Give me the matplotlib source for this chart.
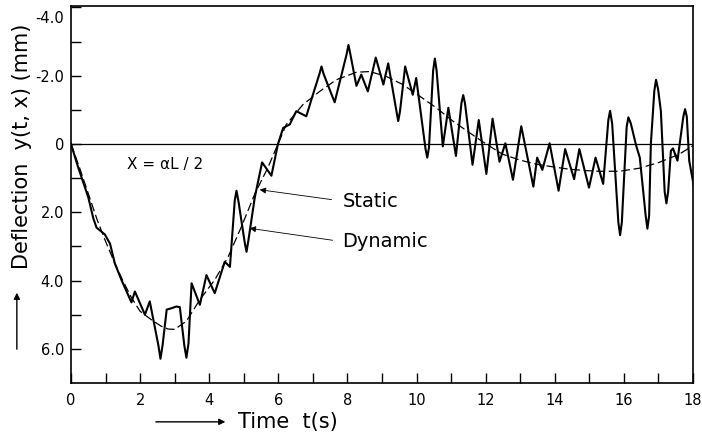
import matplotlib
matplotlib.use("Agg")
import matplotlib.pyplot as plt
from matplotlib.patches import FancyArrowPatch
from matplotlib.transforms import ScaledTranslation

plt.rcParams["font.family"] = ["DejaVu Sans"]

t_dyn = [0.0, 0.21, 0.5, 0.65, 0.74, 0.98, 1.13, 1.27, 1.46, 1.75, 1.85, 2.14, 2.28,
         2.53, 2.59, 2.65, 2.77, 2.91, 3.05, 3.15, 3.28, 3.34, 3.40, 3.49, 3.73, 3.92,
         4.16, 4.45, 4.6, 4.74, 4.79, 4.85, 5.03, 5.08, 5.13, 5.32, 5.53, 5.8, 5.99,
         6.14, 6.33, 6.52, 6.81, 7.0, 7.19, 7.25, 7.31, 7.63, 7.97, 8.03, 8.09, 8.26,
         8.4, 8.59, 8.82, 9.04, 9.18, 9.42, 9.47, 9.52, 9.67, 9.89, 9.99, 10.26, 10.31,
         10.36, 10.48, 10.53, 10.58, 10.76, 10.92, 11.14, 11.3, 11.35, 11.4, 11.62,
         11.8, 12.02, 12.2, 12.4, 12.57, 12.79, 13.03, 13.38, 13.49, 13.64, 13.85,
         14.11, 14.3, 14.56, 14.71, 14.99, 15.18, 15.4, 15.55, 15.6, 15.66, 15.84,
         15.89, 15.94, 16.08, 16.13, 16.2, 16.35, 16.46, 16.63, 16.68, 16.73, 16.78,
         16.88, 16.93, 16.99, 17.07, 17.18, 17.23, 17.28, 17.36, 17.42, 17.55, 17.72,
         17.77, 17.82, 17.89, 18.03]
y_dyn = [0.0, 0.69, 1.56, 2.19, 2.45, 2.65, 2.92, 3.5, 3.98, 4.64, 4.32, 5.0, 4.61,
         5.9, 6.29, 5.9, 4.85, 4.81, 4.76, 4.78, 5.9, 6.26, 5.85, 4.08, 4.71, 3.84,
         4.37, 3.45, 3.6, 1.65, 1.37, 1.7, 2.9, 3.16, 2.85, 1.56, 0.54, 0.93, 0.0,
         -0.47, -0.57, -0.96, -0.81, -1.44, -2.05, -2.27, -2.05, -1.22, -2.6, -2.9, -2.6, -1.7,
         -2.03, -1.54, -2.53, -1.74, -2.36, -0.95, -0.67, -0.95, -2.27, -1.44, -1.93, 0.15, 0.4,
         0.1, -2.15, -2.5, -2.15, 0.07, -1.06, 0.35, -1.2, -1.43, -1.2, 0.61,
         -0.7, 0.88, -0.74, 0.52, -0.02, 1.05, -0.52, 1.25, 0.4, 0.76, -0.02,
         1.37, 0.15, 1.03, 0.15, 1.28, 0.4, 1.17, -0.7, -0.97, -0.6, 2.3,
         2.67, 2.3, -0.5, -0.78, -0.6, 0.03, 0.4, 2.1, 2.48, 2.1, 0.0,
         -1.55, -1.88, -1.6, -0.96, 1.4, 1.74, 1.4, 0.2, 0.13, 0.49, -0.8,
         -1.02, -0.8, 0.49, 1.27]

# static deflection (dashed)
t_sta = [0.0, 0.25, 0.5, 0.75, 1.0, 1.25, 1.5, 1.75, 2.0, 2.33, 2.6, 2.81, 3.0, 3.1,
         3.34, 3.73, 4.16, 4.55, 4.93, 5.32, 5.7, 5.99, 6.23, 6.71, 7.2, 7.68, 8.26,
         8.64, 9.12, 9.6, 10.09, 10.57, 11.05, 11.53, 12.01, 12.49, 12.98, 13.46,
         13.94, 14.42, 14.9, 15.29, 15.87, 16.45, 17.02, 17.6, 18.0]
y_sta = [0.0, 0.7, 1.45, 2.2, 2.85, 3.45, 4.0, 4.5, 4.9, 5.15, 5.33, 5.42, 5.43, 5.36,
         5.19, 4.56, 3.98, 3.3, 2.43, 1.46, 0.69, 0.0, -0.57, -1.15, -1.54, -1.88,
         -2.1, -2.12, -1.98, -1.74, -1.4, -1.06, -0.67, -0.33, 0.0, 0.3, 0.47, 0.59,
         0.67, 0.74, 0.78, 0.8, 0.8, 0.71, 0.54, 0.3, 0.05]

y_major = [-4, -2, 0, 2, 4, 6]
y_major_labels = ["-4.0", "-2.0", "0", "2.0", "4.0", "6.0"]
y_minor = [-3, -1, 1, 3, 5]
x_major = [0, 2, 4, 6, 8, 10, 12, 14, 16, 18]
x_minor = [1, 3, 5, 7, 9, 11, 13, 15, 17]

fig = plt.figure(figsize=(7.02, 4.34), dpi=100)
ax = fig.add_axes([0.1011, 0.1175, 0.8861, 0.8695])

ax.axhline(0, color="black", lw=0.9)
ax.plot(t_sta, y_sta, color="black", lw=0.9, dashes=(7, 3))
ax.plot(t_dyn, y_dyn, color="black", lw=1.5, solid_joinstyle="round")

ax.set_xlim(0, 18)
ax.set_ylim(7.0, -4.05)

ax.set_yticks(y_major)
ax.set_yticklabels(y_major_labels)
ax.set_yticks(y_minor, minor=True)
ax.set_xticks(x_major)
ax.set_xticks(x_minor, minor=True)
ax.tick_params(which="both", direction="in", length=7, width=1, colors="black",
               labelsize=10.5)
ax.tick_params(axis="y", pad=5)
ax.tick_params(axis="x", pad=7)
for s in ax.spines.values():
    s.set_linewidth(1.2)

# push the top label down inside the frame like in the original
lab = ax.get_yticklabels()[0]
lab.set_transform(lab.get_transform() + ScaledTranslation(0, -7 / 72, fig.dpi_scale_trans))

ax.text(1.62, 0.61, "X = \u03b1L / 2", fontsize=11, ha="left", va="center")

ax.text(7.86, 1.69, "Static", fontsize=14, ha="left", va="center")
ax.text(7.86, 2.85, "Dynamic", fontsize=14, ha="left", va="center")
arrow = dict(arrowstyle="-|>", lw=0.6, color="black", mutation_scale=9,
             shrinkA=0, shrinkB=0)
ax.annotate("", xy=(5.46, 1.34), xytext=(7.54, 1.63), arrowprops=arrow)
ax.annotate("", xy=(5.17, 2.47), xytext=(7.57, 2.82), arrowprops=arrow)

# axis titles with their arrows
fig.text(0.031, 0.6625, "Deflection  y(t, x) (mm)", rotation=90, fontsize=15,
         ha="center", va="center")
fig.add_artist(FancyArrowPatch((0.024, 0.189), (0.024, 0.332), transform=fig.transFigure,
                               arrowstyle="-|>", mutation_scale=9, lw=1, color="black"))
fig.text(0.339, 0.028, "Time  t(s)", fontsize=15, ha="left", va="center")
fig.add_artist(FancyArrowPatch((0.218, 0.028), (0.325, 0.028), transform=fig.transFigure,
                               arrowstyle="-|>", mutation_scale=9, lw=1, color="black"))

fig.savefig("out.png", dpi=100)
